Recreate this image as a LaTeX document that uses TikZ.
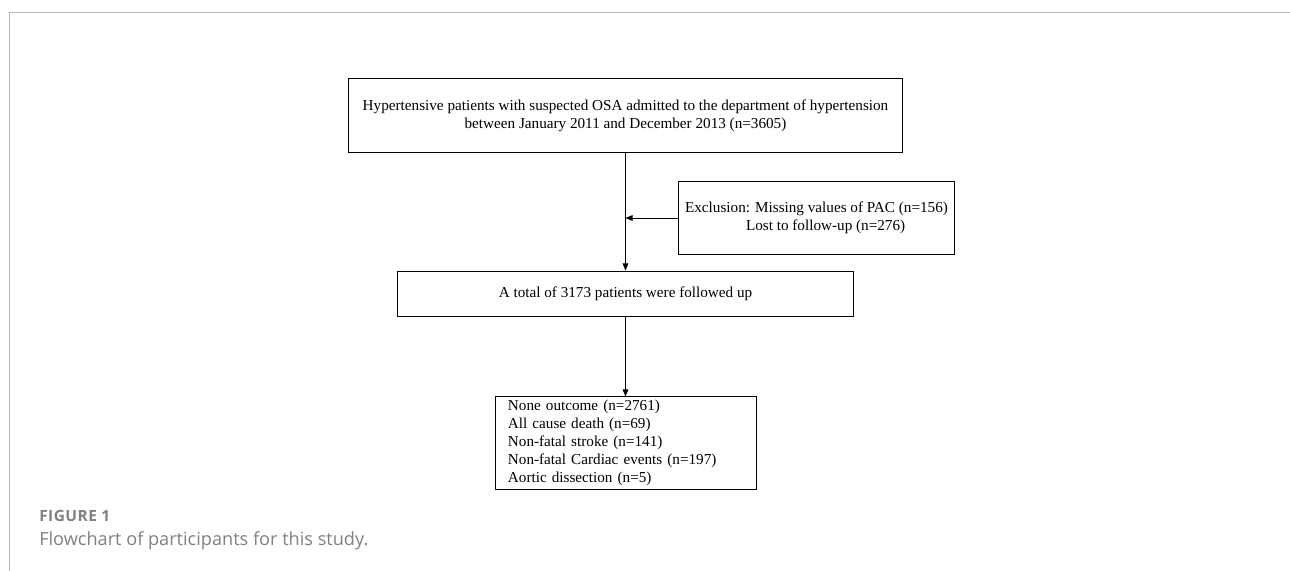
\documentclass[tikz,border=0pt]{standalone}
\usepackage{fontspec}
\setmainfont{Liberation Serif}
\newfontfamily\capfont{Open Sans}
\newfontfamily\figfont[LetterSpace=3]{Open Sans}
\usetikzlibrary{arrows.meta}

\tikzset{
  box/.style={draw=black,line width=0.7pt,inner sep=0pt,
    font=\fontsize{10.8}{12.8}\selectfont},
  arr/.style={-{Triangle[length=5pt,width=4pt]},line width=0.5pt},
  capt/.style={anchor=west,inner sep=0pt,text=black!50}
}

\begin{document}
\begin{tikzpicture}[x=0.025cm,y=-0.025cm]
      \useasboundingbox (0,0) rectangle (1290,571) ;
      \draw[line width=0.8pt,black!28] (9.5,571) |- (1290,12.5) ;
      % boxes
      \node[box,minimum width=13.825cm,minimum height=1.825cm,align=center] %
      (start) at (625.5,115.5) {Hypertensive patients with suspected OSA admitted to the department of hypertension\\between January 2011 and December 2013 (n=3605)} ;
      \node[box,minimum width=6.875cm,minimum height=1.8cm,align=center] %
      (excl) at (816.5,218) {Exclusion: Missing values of PAC (n=156)\\\hspace*{1.2em}Lost to follow-up (n=276)} ;
      \node[box,minimum width=11.375cm,minimum height=1.125cm] %
      (total) at (625.5,293.5) {A total of 3173 patients were followed up} ;
      \node[box,text width=5.9cm,inner xsep=0.3cm,minimum height=2.3cm,align=left] %
      (outcome) at (626,443) {None outcome (n=2761)\\All cause death (n=69)\\Non-fatal stroke (n=141)\\Non-fatal Cardiac events (n=197)\\Aortic dissection (n=5)} ;
      % arrows
      \draw[arr] (start.south) -- (start.south |- total.north) ;
      \draw[arr] (excl.west) -- (excl.west -| start.south) ;
      \draw[arr] (total.south) -- (total.south |- outcome.north) ;
      % caption
      \node[capt,font=\figfont\bfseries\fontsize{11}{13}\selectfont] %
      (fig) at (39,516) {FIGURE 1} ;
      \node[capt,font=\capfont\fontsize{12.9}{15}\selectfont] %
      (cap) at (39,541) {Flowchart of participants for this study.} ;
    \end{tikzpicture}
\end{document}
